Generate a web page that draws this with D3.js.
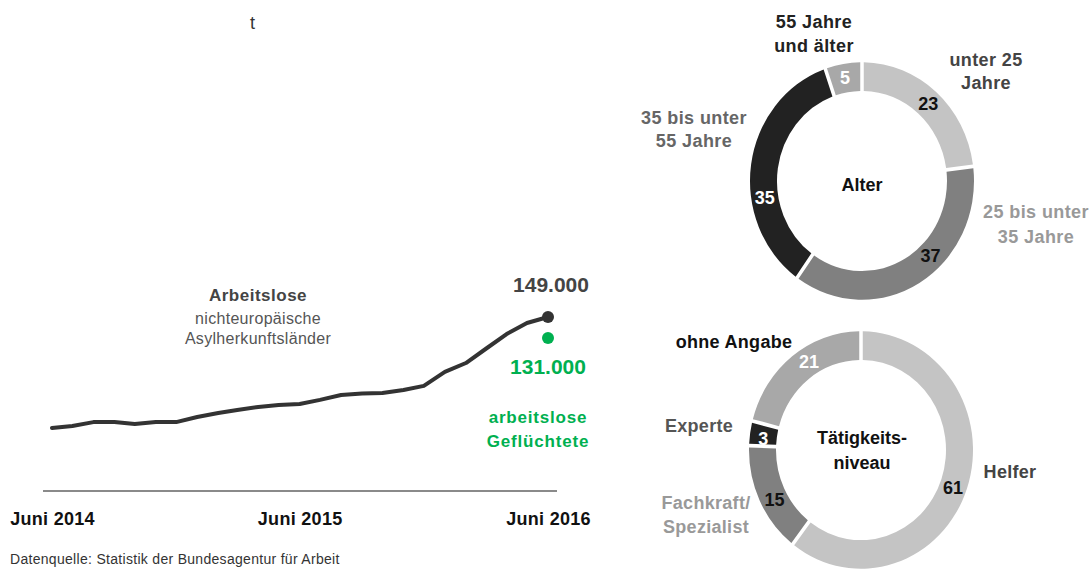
<!DOCTYPE html>
<html>
<head>
<meta charset="utf-8">
<script src="https://cdn.jsdelivr.net/npm/d3@7"></script>
<style>
  body { margin: 0; background: #fff; }
  svg { font-family: "Liberation Sans", Arial, sans-serif; }
</style>
</head>
<body>
<script>
// Arbeitslose aus nichteuropäischen Asylherkunftsländern, in Tausend (Juni 2014 - Juni 2016)
var months = ["2014-06","2014-07","2014-08","2014-09","2014-10","2014-11","2014-12",
              "2015-01","2015-02","2015-03","2015-04","2015-05","2015-06","2015-07",
              "2015-08","2015-09","2015-10","2015-11","2015-12","2016-01","2016-02",
              "2016-03","2016-04","2016-05","2016-06"];
var arbeitslose = [54, 55.7, 59, 59, 57.4, 59, 59, 63.4, 66.8, 69.4, 72, 73.6, 74.5,
                   78, 82.2, 83.5, 84, 86.5, 90, 102, 109.6, 121.6, 134.4, 143.9, 149];
var gefluechtete = 131;   // Juni 2016
var tickMonths = ["2014-06", "2015-06", "2016-06"];
var tickLabels = ["Juni 2014", "Juni 2015", "Juni 2016"];

// Ringe (Prozent)
var alterCats = ["unter 25 Jahre", "25 bis unter 35 Jahre", "35 bis unter 55 Jahre", "55 Jahre und älter"];
var alterVals = [23, 37, 35, 5];
var taetigCats = ["Helfer", "Fachkraft/Spezialist", "Experte", "ohne Angabe"];
var taetigVals = [61, 15, 3, 21];

var parse = d3.timeParse("%Y-%m");

var svg = d3.select("body").append("svg")
    .attr("width", 1091)
    .attr("height", 570);

// ---------- Linie ----------
var x = d3.scaleTime()
    .domain([parse(months[0]), parse(months[months.length - 1])])
    .range([52, 548]);
var y = d3.scaleLinear().domain([0, 149]).range([491, 317]);

svg.append("text").attr("x", 250).attr("y", 29)
    .attr("font-size", 18).attr("fill", "#333").text("t");

svg.append("line")
    .attr("x1", x.range()[0] - 9).attr("x2", x.range()[1] + 9)
    .attr("y1", 491).attr("y2", 491)
    .attr("stroke", "#8a8a8a").attr("stroke-width", 2);

var xAxis = svg.append("g")
    .attr("transform", "translate(0,491)")
    .call(d3.axisBottom(x)
        .tickValues(tickMonths.map(parse))
        .tickSize(0)
        .tickPadding(21)
        .tickFormat(function(d, i) { return tickLabels[i]; }));
xAxis.select(".domain").remove();
xAxis.selectAll("text")
    .attr("font-family", "Liberation Sans, Arial, sans-serif")
    .attr("font-size", 18).attr("font-weight", "bold").attr("fill", "#111")
    .attr("letter-spacing", 0.3);

var line = d3.line()
    .x(function(d, i) { return x(parse(months[i])); })
    .y(function(d) { return y(d); });

svg.append("path")
    .datum(arbeitslose)
    .attr("d", line)
    .attr("fill", "none")
    .attr("stroke", "#333")
    .attr("stroke-width", 4)
    .attr("stroke-linejoin", "round")
    .attr("stroke-linecap", "round");

var last = parse(months[months.length - 1]);
svg.append("circle").attr("cx", x(last)).attr("cy", y(arbeitslose[arbeitslose.length - 1]))
    .attr("r", 6).attr("fill", "#333");
svg.append("circle").attr("cx", x(last)).attr("cy", y(gefluechtete))
    .attr("r", 6).attr("fill", "#00b050");

var fmt = function(v) { return d3.format(",")(v * 1000).replace(/,/g, "."); };

svg.append("text").attr("x", 551).attr("y", 285).attr("dy", "0.35em")
    .attr("text-anchor", "middle").attr("font-size", 21).attr("font-weight", "bold")
    .attr("fill", "#444").text(fmt(arbeitslose[arbeitslose.length - 1]));
svg.append("text").attr("x", 548).attr("y", 367).attr("dy", "0.35em")
    .attr("text-anchor", "middle").attr("font-size", 21).attr("font-weight", "bold")
    .attr("fill", "#00b050").text(fmt(gefluechtete));

function block(lines, cx, cy, step, size, weight, color, spacing) {
  lines.forEach(function(t, i) {
    svg.append("text")
        .attr("x", cx).attr("y", cy + i * step).attr("dy", "0.35em")
        .attr("text-anchor", "middle")
        .attr("font-size", size).attr("font-weight", weight)
        .attr("letter-spacing", spacing || 0)
        .attr("fill", color).text(t);
  });
}

block(["Arbeitslose"], 258, 295, 0, 17, "bold", "#444", 0.5);
block(["nichteuropäische", "Asylherkunftsländer"], 258, 318, 20, 16, "normal", "#555", 0.3);
block(["arbeitslose", "Geflüchtete"], 538, 417, 24, 17, "bold", "#00b050", 0.8);

svg.append("text").attr("x", 10).attr("y", 564)
    .attr("font-size", 14).attr("fill", "#333").attr("letter-spacing", 0.3)
    .text("Datenquelle: Statistik der Bundesagentur für Arbeit");

// ---------- Ringe ----------
var ringColors = ["#c4c4c4", "#808080", "#222222", "#a8a8a8"];
var rOuter = 112, rInner = 85, sy = 1.06;

function ring(vals, cx, cy, numColors, labelAt) {
  var pie = d3.pie().sort(null).padAngle(0.025);
  var arcs = pie(vals);
  var arc = d3.arc().innerRadius(rInner).outerRadius(rOuter);
  var g = svg.append("g").attr("transform", "translate(" + cx + "," + cy + ")");
  g.append("g").attr("transform", "scale(1," + sy + ")")
    .selectAll("path")
    .data(arcs)
    .enter().append("path")
      .attr("d", arc)
      .attr("fill", function(d, i) { return ringColors[i]; });
  var rm = (rInner + rOuter) / 2;
  g.selectAll("text")
    .data(arcs)
    .enter().append("text")
      .attr("x", function(d, i) {
        var a = d.startAngle + (d.endAngle - d.startAngle) * labelAt[i];
        return Math.sin(a) * rm;
      })
      .attr("y", function(d, i) {
        var a = d.startAngle + (d.endAngle - d.startAngle) * labelAt[i];
        return -Math.cos(a) * rm * sy;
      })
      .attr("dy", "0.35em")
      .attr("text-anchor", "middle")
      .attr("font-size", 18).attr("font-weight", "bold")
      .attr("fill", function(d, i) { return numColors[i]; })
      .text(function(d) { return d.data; });
}

ring(alterVals, 862, 181, ["#111", "#111", "#fff", "#fff"], [0.51, 0.40, 0.36, 0.48]);
ring(taetigVals, 861, 450, ["#111", "#111", "#fff", "#fff"], [0.51, 0.44, 0.36, 0.58]);

block(["Alter"], 862, 185, 0, 18, "bold", "#111");
block(["Tätigkeits-", "niveau"], 862, 438, 25, 18, "bold", "#111");

block(["55 Jahre", "und älter"], 814, 22, 24, 18, "bold", "#222", 0.4);
block(["unter 25", "Jahre"], 986, 60, 23, 18, "bold", "#444", 0.4);
block(["35 bis unter", "55 Jahre"], 694, 118, 23, 18, "bold", "#666", 0.4);
block(["25 bis unter", "35 Jahre"], 1036, 212, 25, 18, "bold", "#999", 0.4);

block(["ohne Angabe"], 734, 342, 0, 18, "bold", "#111", 0.3);
block(["Experte"], 699, 426, 0, 18, "bold", "#555", 0.3);
block(["Fachkraft/", "Spezialist"], 706, 503, 24, 18, "bold", "#999", 0.3);
block(["Helfer"], 1010, 472, 0, 18, "bold", "#444", 0.3);
</script>
</body>
</html>
